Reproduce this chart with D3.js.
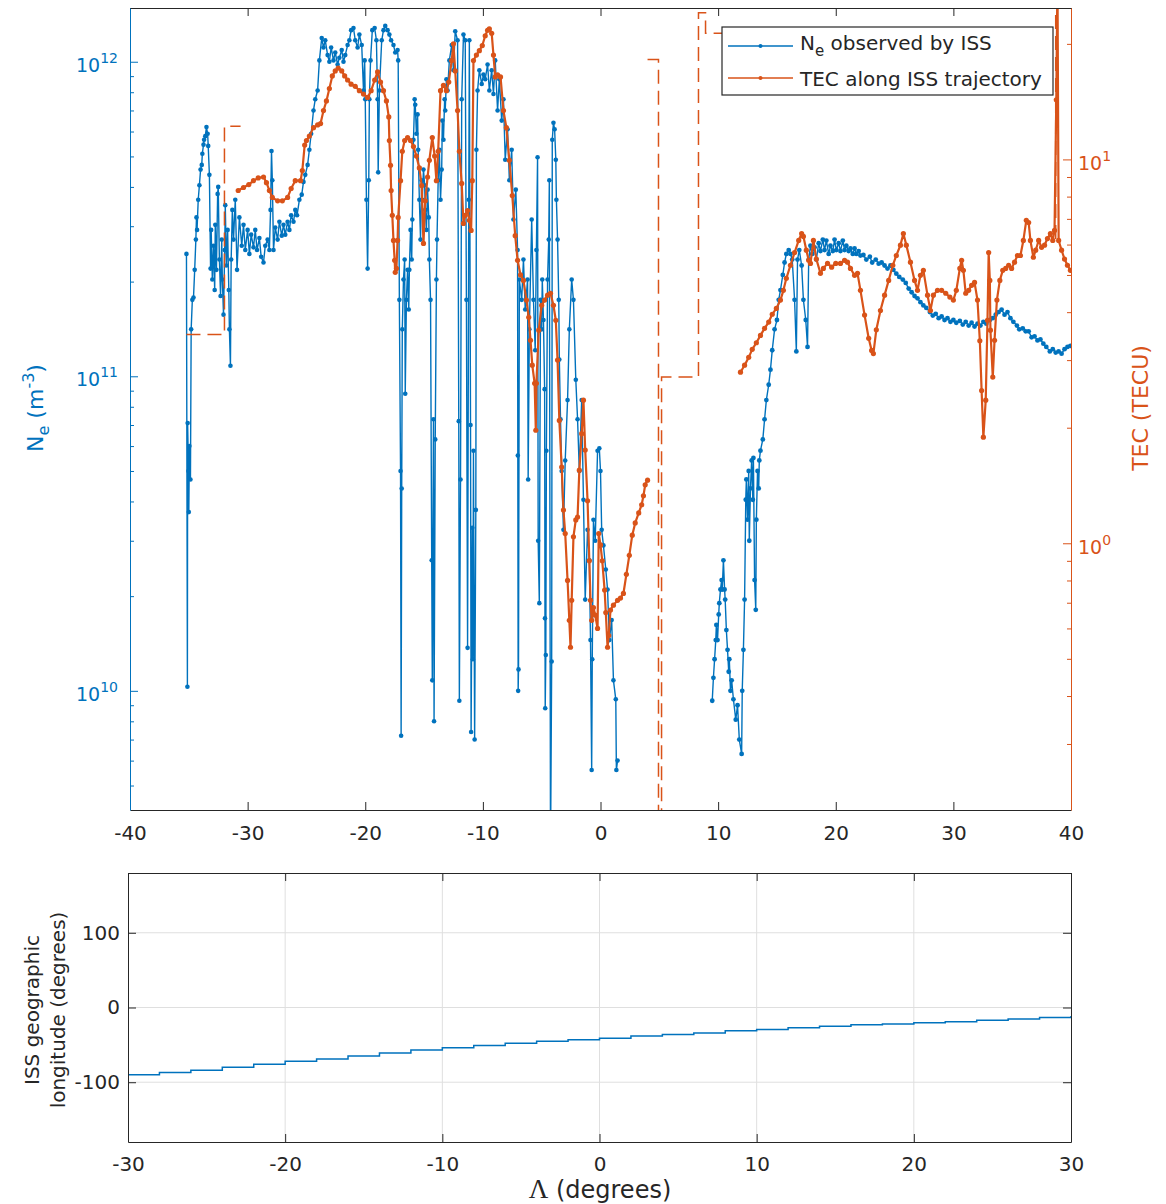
<!DOCTYPE html>
<html>
<head>
<meta charset="utf-8">
<script src="https://cdn.jsdelivr.net/npm/d3@7"></script>
<style>
  body { margin: 0; background: #fff; }
  svg { display: block; }
</style>
</head>
<body>
<div id="chart"></div>
<script>
// ---- data (lat in degrees, Ne in m^-3, TEC in TECU) ----
const neObsSouth = [
  [-35.2,2.45e11],[-35.12,1.03e10],[-35.1,7.1e10],[-35.03,5.0e10],[-35.0,3.7e10],[-34.95,6.0e10],[-34.86,4.7e10],[-34.8,1.41e11],[-34.7,1.75e11],[-34.6,1.78e11],
  [-34.5,2.18e11],[-34.4,2.72e11],[-34.35,3.2e11],[-34.3,2.92e11],[-34.2,3.64e11],[-34.1,4.05e11],[-34.0,4.54e11],[-33.9,4.7e11],[-33.85,5.1e11],[-33.75,5.45e11],
  [-33.7,5.65e11],[-33.6,5.8e11],[-33.5,6.2e11],[-33.4,5.9e11],[-33.35,5.4e11],[-33.25,4.37e11],[-33.15,2.2e11],[-33.1,2.92e11],[-33.0,2.03e11],[-32.9,2.6e11],
  [-32.8,1.88e11],[-32.75,3.03e11],[-32.65,2.18e11],[-32.55,3.8e11],[-32.5,4.0e11],[-32.4,2.35e11],[-32.3,1.8e11],[-32.2,2.72e11],[-32.15,2.03e11],[-32.05,1.57e11],
  [-31.95,2.52e11],[-31.9,3.5e11],[-31.8,2.25e11],[-31.7,2.92e11],[-31.6,1.88e11],[-31.55,1.41e11],[-31.46,1.08e11],[-31.4,2.35e11],[-31.3,3.38e11],[-31.2,2.72e11],
  [-31.05,3.64e11],[-30.9,2.18e11],[-30.7,3.2e11],[-30.5,2.6e11],[-30.35,3.03e11],[-30.2,2.52e11],[-30.0,2.92e11],[-29.85,2.45e11],[-29.7,2.82e11],[-29.5,2.57e11],
  [-29.35,2.92e11],[-29.2,2.52e11],[-29.0,2.75e11],[-28.85,2.4e11],[-28.65,2.3e11],[-28.5,2.6e11],[-28.3,2.72e11],[-28.15,2.52e11],[-28.05,3.38e11],[-27.97,5.2e11],
  [-27.9,4.2e11],[-27.8,2.52e11],[-27.65,2.97e11],[-27.45,2.72e11],[-27.3,3.1e11],[-27.1,2.8e11],[-26.95,3.03e11],[-26.8,2.82e11],[-26.6,3.1e11],[-26.45,2.92e11],
  [-26.3,3.25e11],[-26.1,3.1e11],[-25.95,3.38e11],[-25.8,3.25e11],[-25.6,3.64e11],[-25.4,3.78e11],[-25.25,4.15e11],[-25.1,4.37e11],[-24.9,4.7e11],[-24.75,5.25e11],
  [-24.6,5.9e11],[-24.4,7.0e11],[-24.25,7.6e11],[-24.05,8.1e11],[-23.9,1.01e12],[-23.7,1.19e12],[-23.55,1.11e12],[-23.4,1.17e12],[-23.2,1.05e12],[-23.05,1.0e12],
  [-22.9,1.11e12],[-22.7,1.01e12],[-22.55,1.07e12],[-22.35,9.8e11],[-22.2,1.03e12],[-22.0,1.09e12],[-21.85,1.0e12],[-21.7,1.05e12],[-21.5,1.13e12],[-21.35,1.17e12],
  [-21.2,1.26e12],[-21.0,1.28e12],[-20.85,1.17e12],[-20.65,1.11e12],[-20.5,1.22e12],[-20.3,1.13e12],[-20.15,8.1e11],[-20.05,1.01e12],[-20.0,7.6e11],[-19.9,3.64e11],
  [-19.8,2.2e11],[-19.7,4.2e11],[-19.65,7.6e11],[-19.55,1.01e12],[-19.4,1.26e12],[-19.2,1.28e12],[-19.05,1.17e12],[-18.95,7.6e11],[-18.9,4.45e11],[-18.8,8.1e11],
  [-18.6,1.17e12],[-18.45,1.26e12],[-18.3,1.3e12],[-18.1,1.26e12],[-17.95,1.22e12],[-17.8,1.17e12],[-17.6,1.13e12],[-17.45,1.07e12],[-17.25,1.09e12],[-17.2,1.01e12],
  [-17.1,1.75e11],[-17.0,5.0e10],[-16.95,7.2e9],[-16.9,4.4e10],[-16.85,1.41e11],[-16.75,2.03e11],[-16.65,2.35e11],[-16.6,8.8e10],[-16.5,1.75e11],[-16.4,2.18e11],
  [-16.3,1.63e11],[-16.25,2.18e11],[-16.15,2.92e11],[-16.05,2.35e11],[-16.0,3.15e11],[-15.9,5.65e11],[-15.8,7.6e11],[-15.75,7.3e11],[-15.65,5.9e11],[-15.55,6.8e11],
  [-15.5,5.25e11],[-15.4,3.64e11],[-15.3,2.72e11],[-15.2,4.2e11],[-15.15,3.64e11],[-15.05,4.54e11],[-14.95,4.05e11],[-14.9,3.38e11],[-14.8,2.92e11],[-14.7,3.92e11],
  [-14.6,3.2e11],[-14.55,2.35e11],[-14.45,1.75e11],[-14.35,2.6e10],[-14.3,1.08e10],[-14.2,7.3e10],[-14.15,8.0e9],[-14.05,6.3e10],[-13.95,2.03e11],[-13.9,2.72e11],
  [-13.8,4.2e11],[-13.7,5.25e11],[-13.6,3.64e11],[-13.5,4.54e11],[-13.45,6.5e11],[-13.35,5.65e11],[-13.25,7.6e11],[-13.2,7.0e11],[-13.1,8.8e11],[-13.0,8.1e11],
  [-12.85,1.01e12],[-12.65,1.13e12],[-12.5,9.4e11],[-12.35,1.25e12],[-12.15,1.17e12],[-12.05,7.2e10],[-12.0,9.3e9],[-11.9,4.7e10],[-11.8,7.6e11],[-11.65,1.22e12],
  [-11.5,1.17e12],[-11.4,1.75e11],[-11.3,1.37e10],[-11.2,3.64e11],[-11.15,1.17e12],[-11.05,7.0e10],[-11.0,7.4e9],[-10.9,3.3e10],[-10.85,1.26e10],[-10.8,5.8e10],
  [-10.7,7.0e9],[-10.6,3.76e10],[-10.55,5.25e11],[-10.45,8.1e11],[-10.3,9.4e11],[-10.1,8.5e11],[-9.95,9.1e11],[-9.8,8.8e11],[-9.6,9.8e11],[-9.45,8.1e11],
  [-9.25,9.4e11],[-9.1,7.9e11],[-8.95,1.01e12],[-8.75,7.0e11],[-8.6,8.8e11],[-8.4,6.5e11],[-8.25,7.6e11],[-8.1,4.88e11],[-7.9,6.1e11],[-7.75,4.2e11],
  [-7.55,5.25e11],[-7.4,3.15e11],[-7.2,3.92e11],[-7.05,2.52e11],[-7.03,5.6e10],[-7.0,1.0e10],[-6.97,1.17e10],[-6.9,2.03e11],[-6.7,1.75e11],[-6.55,2.35e11],
  [-6.4,1.63e11],[-6.2,2.03e11],[-6.15,4.7e10],[-6.05,1.41e11],[-5.85,3.15e11],[-5.7,1.75e11],[-5.55,1.21e11],[-5.45,2.52e11],[-5.35,4.97e11],[-5.3,3.0e10],
  [-5.2,1.9e10],[-5.1,1.75e11],[-5.0,1.41e11],[-4.95,2.03e11],[-4.85,1.51e11],[-4.75,9.1e10],[-4.72,1.7e10],[-4.7,8.8e9],[-4.65,1.3e10],[-4.6,5.8e10],
  [-4.5,2.03e11],[-4.4,2.72e11],[-4.35,4.2e11],[-4.25,3.0e9],[-4.15,1.24e10],[-4.1,5.65e11],[-4.0,6.4e11],[-3.9,6.1e11],[-3.8,4.88e11],[-3.75,3.64e11],
  [-3.65,2.72e11],[-3.55,1.75e11],[-3.5,1.13e11],[-3.4,7.3e10],[-3.3,5.0e10],[-3.15,3.25e10],[-3.0,5.4e10],[-2.8,8.4e10],[-2.65,1.41e11],[-2.45,2.03e11],
  [-2.3,1.75e11],[-2.1,9.75e10],[-1.95,7.3e10],[-1.8,5.0e10],[-1.6,8.4e10],[-1.45,4.05e10],[-1.3,1.95e10],[-1.1,3.25e10],[-0.95,2.6e10],[-0.85,1.45e10],
  [-0.75,5.6e9],[-0.7,1.26e10],[-0.6,3.5e10],[-0.45,3.0e10],[-0.25,5.8e10],[-0.1,5.9e10],[0.0,5.0e10],[0.1,3.25e10],[0.25,2.9e10],[0.45,2.43e10],
  [0.6,2.1e10],[0.75,1.45e10],[0.95,1.68e10],[1.1,1.08e10],[1.3,9.4e9],[1.35,5.6e9],[1.45,6.0e9]
];
const neObsNorth = [
  [9.5,9.3e9],[9.6,1.1e10],[9.7,1.26e10],[9.8,1.45e10],[9.85,1.62e10],[9.95,1.45e10],[10.05,1.75e10],[10.1,1.9e10],[10.2,2.1e10],[10.3,2.25e10],
  [10.35,2.1e10],[10.45,2.6e10],[10.55,2.1e10],[10.6,1.95e10],[10.7,1.56e10],[10.8,1.35e10],[10.9,1.15e10],[10.95,1.26e10],[11.05,1.0e10],[11.15,1.08e10],
  [11.3,9.4e9],[11.5,8.1e9],[11.65,9.0e9],[11.8,7.0e9],[12.0,6.3e9],[12.05,1.0e10],[12.15,1.35e10],[12.25,1.95e10],[12.35,4.05e10],[12.4,4.7e10],
  [12.5,3.5e10],[12.6,5.0e10],[12.65,3.0e10],[12.75,4.4e10],[12.85,5.4e10],[12.95,4.05e10],[13.0,5.5e10],[13.1,2.25e10],[13.2,1.81e10],[13.25,3.5e10],
  [13.35,5.0e10],[13.45,4.4e10],[13.5,5.4e10],[13.6,5.8e10],[13.8,6.3e10],[13.95,7.3e10],[14.1,8.4e10],[14.3,9.4e10],[14.45,1.05e11],[14.6,1.21e11],
  [14.8,1.41e11],[15.0,1.51e11],[15.15,1.75e11],[15.3,1.88e11],[15.5,2.1e11],[15.65,2.3e11],[15.8,2.45e11],[16.0,2.52e11],[16.15,2.45e11],[16.3,2.35e11],
  [16.5,1.75e11],[16.65,1.2e11],[16.75,2.35e11],[16.9,2.52e11],[17.1,2.25e11],[17.25,1.75e11],[17.45,1.51e11],[17.6,1.24e11],[17.7,2.35e11],[17.85,2.6e11],
  [18.0,2.45e11],[18.2,2.57e11],[18.35,2.35e11],[18.55,2.65e11],[18.7,2.5e11],[18.9,2.72e11],[19.05,2.52e11],[19.2,2.7e11],[19.4,2.45e11],[19.55,2.6e11],
  [19.75,2.5e11],[19.9,2.72e11],[20.05,2.52e11],[20.25,2.65e11],[20.4,2.5e11],[20.6,2.7e11],[20.75,2.52e11],[20.9,2.6e11],[21.1,2.5e11],[21.25,2.55e11],
  [21.45,2.45e11],[21.6,2.55e11],[21.75,2.45e11],[21.95,2.5e11],[22.1,2.42e11],[22.35,2.43e11],[22.6,2.35e11],[22.9,2.4e11],[23.1,2.3e11],[23.4,2.35e11],
  [23.65,2.28e11],[23.9,2.3e11],[24.15,2.25e11],[24.4,2.2e11],[24.65,2.25e11],[24.9,2.18e11],[25.15,2.12e11],[25.4,2.07e11],[25.7,2.03e11],[25.95,1.98e11],
  [26.2,1.9e11],[26.45,1.85e11],[26.7,1.8e11],[26.95,1.77e11],[27.2,1.72e11],[27.45,1.68e11],[27.7,1.65e11],[28.0,1.6e11],[28.25,1.56e11],[28.5,1.58e11],
  [28.75,1.53e11],[29.0,1.55e11],[29.25,1.51e11],[29.5,1.53e11],[29.75,1.49e11],[30.0,1.51e11],[30.25,1.48e11],[30.55,1.5e11],[30.8,1.46e11],[31.05,1.49e11],
  [31.3,1.45e11],[31.55,1.48e11],[31.8,1.44e11],[32.05,1.47e11],[32.3,1.45e11],[32.55,1.49e11],[32.8,1.47e11],[33.1,1.51e11],[33.35,1.53e11],[33.6,1.57e11],
  [33.85,1.6e11],[34.1,1.63e11],[34.35,1.57e11],[34.6,1.6e11],[34.85,1.53e11],[35.1,1.49e11],[35.4,1.45e11],[35.6,1.41e11],[35.9,1.42e11],[36.15,1.39e11],
  [36.4,1.39e11],[36.65,1.33e11],[36.9,1.34e11],[37.15,1.3e11],[37.4,1.31e11],[37.65,1.27e11],[37.9,1.24e11],[38.2,1.2e11],[38.45,1.22e11],[38.7,1.19e11],
  [38.95,1.2e11],[39.2,1.18e11],[39.45,1.22e11],[39.7,1.24e11],[39.95,1.25e11]
];
const tecSouth = [
  [-30.8,8.3],[-30.35,8.45],[-29.9,8.6],[-29.5,8.8],[-29.1,8.95],[-28.65,9.0],[-28.4,8.7],[-28.15,8.3],[-27.9,7.96],[-27.45,7.8],
  [-27.05,7.8],[-26.6,7.96],[-26.3,8.4],[-25.95,8.8],[-25.5,8.8],[-25.35,9.35],[-25.15,10.9],[-25.0,11.2],[-24.75,11.5],[-24.4,12.1],
  [-24.05,12.3],[-23.8,12.4],[-23.55,13.4],[-23.3,14.2],[-23.05,15.3],[-22.8,16.5],[-22.55,17.0],[-22.3,17.3],[-22.0,17.0],[-21.75,16.5],
  [-21.5,16.1],[-21.2,15.7],[-20.85,15.5],[-20.5,15.1],[-20.15,14.8],[-19.8,14.5],[-19.5,15.1],[-19.2,16.1],[-18.95,16.9],[-18.7,15.9],
  [-18.45,15.1],[-18.2,14.2],[-18.0,12.9],[-17.95,11.2],[-17.85,9.65],[-17.8,8.3],[-17.7,7.15],[-17.6,6.15],[-17.5,5.46],[-17.45,5.08],
  [-17.35,5.2],[-17.25,6.15],[-17.2,7.06],[-17.0,8.8],[-16.85,10.5],[-16.65,11.2],[-16.4,11.4],[-16.15,11.2],[-15.9,10.8],[-15.65,10.2],
  [-15.4,9.5],[-15.2,8.55],[-15.05,6.04],[-14.9,7.8],[-14.7,9.0],[-14.55,9.95],[-14.3,11.4],[-14.1,10.2],[-13.95,8.8],[-13.8,10.5],
  [-13.6,15.1],[-13.35,15.6],[-13.1,15.1],[-12.9,15.9],[-12.65,18.1],[-12.5,20.0],[-12.35,17.0],[-12.15,13.4],[-12.0,10.5],[-11.8,8.66],
  [-11.65,6.81],[-11.5,7.15],[-11.3,7.36],[-11.15,6.94],[-11.0,6.53],[-10.9,8.8],[-10.8,18.1],[-10.55,18.7],[-10.3,19.2],[-10.05,19.8],
  [-9.8,21.0],[-9.6,21.7],[-9.45,21.9],[-9.25,21.3],[-9.1,18.7],[-8.95,16.4],[-8.75,16.6],[-8.5,16.4],[-8.25,13.4],[-8.0,12.1],
  [-7.75,9.95],[-7.5,8.05],[-7.25,6.33],[-7.05,5.46],[-6.8,5.0],[-6.55,4.84],[-6.3,4.3],[-6.1,3.88],[-5.95,3.38],[-5.8,2.91],
  [-5.6,2.61],[-5.5,1.97],[-5.45,2.61],[-5.25,3.59],[-5.0,4.17],[-4.75,4.3],[-4.5,4.43],[-4.25,4.48],[-4.0,4.17],[-3.8,3.81],
  [-3.65,3.0],[-3.5,2.09],[-3.3,1.58],[-3.15,1.22],[-3.0,1.06],[-2.8,0.8],[-2.65,0.63],[-2.55,0.536],[-2.45,0.71],[-2.3,1.04],
  [-2.1,1.15],[-1.95,1.17],[-1.8,1.55],[-1.6,1.93],[-1.45,2.36],[-1.3,1.75],[-1.1,1.29],[-0.95,0.9],[-0.85,0.71],[-0.75,0.63],
  [-0.6,0.68],[-0.45,0.65],[-0.25,0.6],[-0.15,1.06],[0.0,0.99],[0.15,0.9],[0.35,0.755],[0.45,0.66],[0.6,0.536],[0.7,0.575],
  [0.85,0.67],[1.1,0.69],[1.45,0.71],[1.7,0.72],[1.95,0.74],[2.2,0.83],[2.45,0.93],[2.7,1.05],[2.95,1.13],[3.25,1.2],
  [3.5,1.26],[3.65,1.33],[3.8,1.42],[4.0,1.46]
];
const tecNorth = [
  [11.9,2.79],[12.25,2.91],[12.6,3.05],[12.9,3.2],[13.25,3.33],[13.6,3.48],[13.95,3.63],[14.3,3.77],[14.6,3.95],[14.95,4.09],
  [15.3,4.3],[15.55,4.56],[15.8,4.9],[16.15,5.3],[16.5,5.72],[16.85,6.15],[17.1,6.41],[17.25,6.3],[17.5,5.8],[17.7,5.46],
  [17.85,5.36],[18.1,6.15],[18.35,5.5],[18.7,5.05],[18.95,5.2],[19.3,5.36],[19.65,5.24],[20.0,5.36],[20.4,5.36],[20.75,5.46],
  [21.0,5.4],[21.25,5.2],[21.6,4.99],[21.85,5.05],[22.1,4.56],[22.45,3.93],[22.8,3.42],[23.05,3.18],[23.2,3.12],[23.45,3.6],
  [23.8,4.04],[24.15,4.43],[24.5,4.84],[24.85,5.3],[25.15,5.62],[25.5,5.98],[25.75,6.41],[26.0,5.98],[26.35,5.4],[26.7,4.84],
  [26.95,4.56],[27.2,4.99],[27.45,5.14],[27.8,4.43],[28.05,4.04],[28.3,4.43],[28.65,4.56],[29.0,4.56],[29.35,4.48],[29.7,4.38],
  [30.0,4.3],[30.25,4.56],[30.55,5.2],[30.7,5.46],[30.85,5.14],[31.05,4.48],[31.3,4.56],[31.55,4.7],[31.8,4.78],[32.05,4.3],
  [32.25,3.37],[32.4,2.5],[32.55,1.89],[32.75,2.36],[32.9,3.81],[33.0,5.72],[33.1,4.84],[33.15,3.59],[33.35,2.71],[33.5,3.38],
  [33.7,4.3],[33.95,4.84],[34.2,5.14],[34.45,5.2],[34.7,5.3],[34.95,5.2],[35.2,5.4],[35.45,5.62],[35.7,5.62],[35.95,6.15],
  [36.2,6.94],[36.4,6.85],[36.55,6.15],[36.8,5.56],[37.0,5.8],[37.25,6.15],[37.5,5.9],[37.75,5.98],[38.0,6.22],[38.25,6.41],
  [38.45,6.15],[38.6,6.53],[38.75,14.3],[38.85,30],[38.95,6.15],[39.2,5.8],[39.45,5.5],[39.7,5.3],[39.95,5.14]
];
// dashed TEC pieces (no legend entry)
const tecDashA = [[-35.2,3.5],[-31.97,3.5],[-31.97,12.2],[-30.6,12.2]];
const tecDashB = [[4.0,18.2],[4.93,18.2],[4.93,0.1]];
const tecDashC = [[5.19,0.1],[5.19,2.71],[8.33,2.71],[8.33,24.1],[8.93,24.1],[8.93,21.3],[10.6,21.3]];
const tecDashD = [[38.7,6.2],[38.7,30]];

// ISS longitude vs latitude (lower panel)
const lonLat = [-30,-28,-26,-24,-22,-20,-18,-16,-14,-12,-10,-8,-6,-4,-2,0,2,4,6,8,10,12,14,16,18,20,22,24,26,28,30];
const lonVal = [-90,-87,-84,-80,-76,-72,-69,-65,-61,-57,-54,-51,-48,-45,-43,-41,-38,-36,-34,-31,-29.5,-27,-25,-23,-22,-20.5,-19,-17,-15.5,-13.5,-11.5];

// ticks
const xTicksTop = [-40,-30,-20,-10,0,10,20,30,40];
const neMajor = [1e10,1e11,1e12];
const tecMajor = [1,10];
const xTicksBot = [-30,-20,-10,0,10,20,30];
const lonTicks = [-100,0,100];

// ---- drawing ----
const W = 1166, H = 1204;
const blue = "#0072BD", orange = "#D95319", ink = "#262626", gridCol = "#dfdfdf";
const font = "DejaVu Sans, sans-serif";

const svg = d3.select("#chart").append("svg")
  .attr("width", W).attr("height", H)
  .style("font-family", font);

function minorTicks(lo, hi) {
  const out = [];
  for (let e = Math.floor(Math.log10(lo)); e <= Math.ceil(Math.log10(hi)); e++) {
    for (let m = 2; m <= 9; m++) {
      const v = m * Math.pow(10, e);
      if (v >= lo && v <= hi) out.push(v);
    }
  }
  return out;
}

function styleAxis(g, color, size) {
  g.attr("font-family", font).attr("font-size", size);
  g.select(".domain").attr("stroke", color);
  g.selectAll(".tick line").attr("stroke", color);
  g.selectAll(".tick text").attr("fill", color);
}

// top panel
const P = {l: 130, r: 1071, t: 8, b: 810};
const x = d3.scaleLinear().domain([-40, 40]).range([P.l, P.r]);
const yNe = d3.scaleLog().domain([4.18e9, 1.482e12]).range([P.b, P.t]);
const yTec = d3.scaleLog().domain([0.2019, 24.8]).range([P.b, P.t]);

svg.append("defs").append("clipPath").attr("id", "clipTop")
  .append("rect").attr("x", P.l).attr("y", P.t).attr("width", P.r - P.l).attr("height", P.b - P.t);

const plot = svg.append("g").attr("clip-path", "url(#clipTop)");

function drawSeries(data, y, color, lw, r) {
  const line = d3.line().x(d => x(d[0])).y(d => y(d[1]));
  plot.append("path").datum(data)
    .attr("d", line).attr("fill", "none")
    .attr("stroke", color).attr("stroke-width", lw).attr("stroke-linejoin", "round");
  plot.append("g").selectAll("circle").data(data).join("circle")
    .attr("cx", d => x(d[0])).attr("cy", d => y(d[1]))
    .attr("r", r).attr("fill", color);
}

drawSeries(neObsSouth, yNe, blue, 1.4, 2.3);
drawSeries(neObsNorth, yNe, blue, 1.4, 2.4);
drawSeries(tecSouth, yTec, orange, 2.2, 2.6);
drawSeries(tecNorth, yTec, orange, 2.2, 2.6);

const dashLine = d3.line().x(d => x(d[0])).y(d => yTec(d[1]));
[tecDashA, tecDashB, tecDashC, tecDashD].forEach(s => {
  plot.append("path").datum(s).attr("d", dashLine)
    .attr("fill", "none").attr("stroke", orange).attr("stroke-width", 1.5)
    .attr("stroke-dasharray", "14,7");
});

// top-panel axes
svg.append("g").attr("transform", `translate(0,${P.b})`)
  .call(d3.axisBottom(x).tickValues(xTicksTop).tickFormat(d => String(d))
    .tickSizeInner(-8).tickSizeOuter(0).tickPadding(16))
  .call(g => styleAxis(g, ink, 20));

svg.append("g").attr("transform", `translate(0,${P.t})`)
  .call(d3.axisTop(x).tickValues(xTicksTop).tickFormat("").tickSizeInner(-8).tickSizeOuter(0))
  .call(g => styleAxis(g, ink, 20));

svg.append("g").attr("transform", `translate(${P.l},0)`)
  .call(d3.axisLeft(yNe).tickValues(neMajor).tickFormat("").tickSizeInner(-8).tickSizeOuter(0))
  .call(g => styleAxis(g, blue, 19));
svg.append("g").attr("transform", `translate(${P.l},0)`)
  .call(d3.axisLeft(yNe).tickValues(minorTicks(4.18e9, 1.482e12)).tickFormat("").tickSizeInner(-4).tickSizeOuter(0))
  .call(g => { styleAxis(g, blue, 19); g.select(".domain").remove(); });

svg.append("g").attr("transform", `translate(${P.r},0)`)
  .call(d3.axisRight(yTec).tickValues(tecMajor).tickFormat("").tickSizeInner(-8).tickSizeOuter(0))
  .call(g => styleAxis(g, orange, 19));
svg.append("g").attr("transform", `translate(${P.r},0)`)
  .call(d3.axisRight(yTec).tickValues(minorTicks(0.2019, 24.8)).tickFormat("").tickSizeInner(-4).tickSizeOuter(0))
  .call(g => { styleAxis(g, orange, 19); g.select(".domain").remove(); });

// power-of-ten tick labels
neMajor.forEach(v => {
  const t = svg.append("text").attr("x", 118).attr("y", yNe(v) + 10)
    .attr("text-anchor", "end").attr("fill", blue).attr("font-size", 19);
  t.append("tspan").text("10");
  t.append("tspan").attr("dy", -9).attr("font-size", 14).text(Math.round(Math.log10(v)));
});
tecMajor.forEach(v => {
  const t = svg.append("text").attr("x", 1078).attr("y", yTec(v) + 11)
    .attr("text-anchor", "start").attr("fill", orange).attr("font-size", 19);
  t.append("tspan").text("10");
  t.append("tspan").attr("dy", -9).attr("font-size", 14).text(Math.round(Math.log10(v)));
});

// axis titles (top panel)
const yl = svg.append("text").attr("transform", "translate(43,408) rotate(-90)")
  .attr("text-anchor", "middle").attr("fill", blue).attr("font-size", 22);
yl.append("tspan").text("N");
yl.append("tspan").attr("dy", 6).attr("font-size", 16).text("e");
yl.append("tspan").attr("dy", -6).text(" (m");
yl.append("tspan").attr("dy", -9).attr("font-size", 16).text("-3");
yl.append("tspan").attr("dy", 9).text(")");

svg.append("text").attr("transform", "translate(1148,408) rotate(-90)")
  .attr("text-anchor", "middle").attr("fill", orange).attr("font-size", 22)
  .text("TEC (TECU)");

// legend
const lg = svg.append("g").attr("font-size", 20).attr("fill", ink);
lg.append("rect").attr("x", 722).attr("y", 27).attr("width", 331).attr("height", 68)
  .attr("fill", "#fff").attr("stroke", ink).attr("stroke-width", 1.2);
[[blue, 46], [orange, 78]].forEach(([c, yy]) => {
  lg.append("line").attr("x1", 728).attr("x2", 793).attr("y1", yy).attr("y2", yy)
    .attr("stroke", c).attr("stroke-width", 1.3);
  lg.append("circle").attr("cx", 760.5).attr("cy", yy).attr("r", 2).attr("fill", c);
});
const l1 = lg.append("text").attr("x", 800).attr("y", 50);
l1.append("tspan").text("N");
l1.append("tspan").attr("dy", 6).attr("font-size", 15).text("e");
l1.append("tspan").attr("dy", -6).text(" observed by ISS");
lg.append("text").attr("x", 800).attr("y", 86).text("TEC along ISS trajectory");

// bottom panel
const Q = {l: 128, r: 1071, t: 873, b: 1142};
const x2 = d3.scaleLinear().domain([-30, 30]).range([Q.l, Q.r]);
const yLon = d3.scaleLinear().domain([-180, 180]).range([Q.b, Q.t]);

svg.append("g").selectAll("line").data(xTicksBot.slice(1, -1)).join("line")
  .attr("x1", d => x2(d)).attr("x2", d => x2(d)).attr("y1", Q.t).attr("y2", Q.b)
  .attr("stroke", gridCol);
svg.append("g").selectAll("line").data(lonTicks).join("line")
  .attr("x1", Q.l).attr("x2", Q.r).attr("y1", d => yLon(d)).attr("y2", d => yLon(d))
  .attr("stroke", gridCol);

svg.append("path").datum(d3.zip(lonLat, lonVal))
  .attr("d", d3.line().curve(d3.curveStepAfter).x(d => x2(d[0])).y(d => yLon(d[1])))
  .attr("fill", "none").attr("stroke", blue).attr("stroke-width", 1.5);

svg.append("g").attr("transform", `translate(0,${Q.b})`)
  .call(d3.axisBottom(x2).tickValues(xTicksBot).tickFormat(d => String(d))
    .tickSizeInner(-8).tickSizeOuter(0).tickPadding(15))
  .call(g => styleAxis(g, ink, 20));
svg.append("g").attr("transform", `translate(0,${Q.t})`)
  .call(d3.axisTop(x2).tickValues(xTicksBot).tickFormat("").tickSizeInner(-8).tickSizeOuter(0))
  .call(g => styleAxis(g, ink, 20));
svg.append("g").attr("transform", `translate(${Q.l},0)`)
  .call(d3.axisLeft(yLon).tickValues(lonTicks).tickFormat(d => String(d))
    .tickSizeInner(-8).tickSizeOuter(0).tickPadding(8))
  .call(g => styleAxis(g, ink, 20));
svg.append("g").attr("transform", `translate(${Q.r},0)`)
  .call(d3.axisRight(yLon).tickValues(lonTicks).tickFormat("").tickSizeInner(-8).tickSizeOuter(0))
  .call(g => styleAxis(g, ink, 20));

const bl = svg.append("text").attr("transform", "translate(0,1010) rotate(-90)")
  .attr("text-anchor", "middle").attr("fill", ink).attr("font-size", 20);
bl.append("tspan").attr("x", 0).attr("y", 39).text("ISS geographic");
bl.append("tspan").attr("x", 0).attr("y", 65).text("longitude (degrees)");

const xl = svg.append("text").attr("x", 600).attr("y", 1198)
  .attr("text-anchor", "middle").attr("fill", ink).attr("font-size", 24);
xl.append("tspan").attr("font-family", "Liberation Serif, serif").attr("font-size", 27).text("Λ");
xl.append("tspan").text(" (degrees)");
</script>
</body>
</html>
